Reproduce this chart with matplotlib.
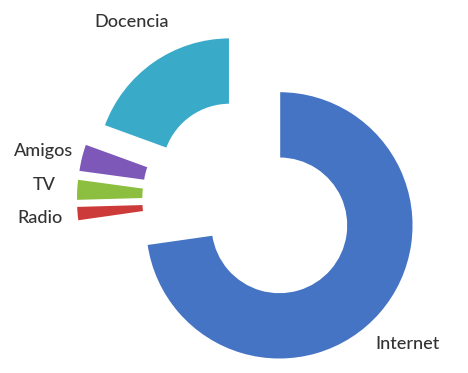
import matplotlib.pyplot as plt

categorias = ["Internet", "Radio", "TV", "Amigos", "Docencia"]
valores = [72.6, 1.8, 2.6, 3.4, 19.4]
colores = ["#4674C4", "#CC3B3A", "#8CBE3F", "#7E58B8", "#3AAAC9"]

plt.rcParams['font.family'] = ['Lato', 'DejaVu Sans']

fig = plt.figure(figsize=(4.68, 3.73), dpi=100)
ax = fig.add_axes([0, 0, 1, 1])

# centro del donut en pixeles (249, 199), radio 134 px
R = 134.0
cx, cy = 249.0, 199.0

wedges, _ = ax.pie(valores, colors=colores, startangle=90, counterclock=False,
                   explode=[0.30, 0.29, 0.29, 0.29, 0.25], radius=1,
                   wedgeprops=dict(width=0.5, edgecolor="white", linewidth=1.2))

ax.set_xlim(-cx / R, (468 - cx) / R)
ax.set_ylim(-(373 - cy) / R, cy / R)
ax.set_aspect('equal')
ax.axis('off')

# etiquetas
def px(x, y):
    return (x - cx) / R, (cy - y) / R

etiquetas = {
    "Docencia": (132, 22),
    "Amigos": (44, 151),
    "TV": (44, 185),
    "Radio": (40, 218),
    "Internet": (407, 344),
}
for nombre, (x, y) in etiquetas.items():
    ax.text(*px(x, y), nombre, ha="center", va="center", fontsize=13,
            color="#333333", fontweight="medium")

fig.savefig("out.png", dpi=100, facecolor="white")
